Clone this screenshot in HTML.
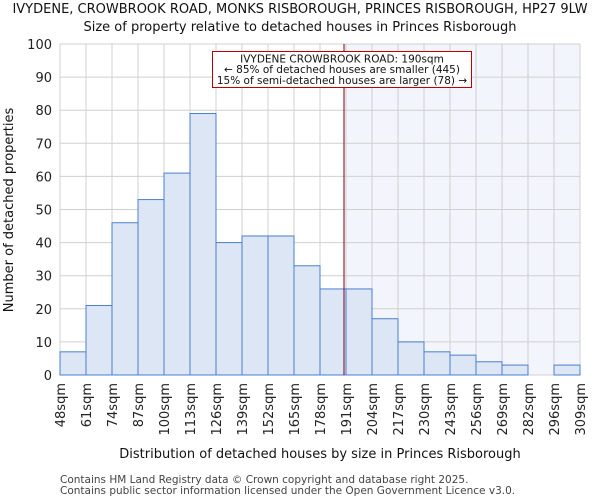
<!DOCTYPE html>
<html><head><meta charset="utf-8"><style>
body{margin:0;background:#fff;font-family:"DejaVu Sans","Liberation Sans",sans-serif;}
</style></head><body>
<svg id="chart" width="600" height="500" xmlns="http://www.w3.org/2000/svg" font-family="DejaVu Sans, Liberation Sans, sans-serif"></svg>
<script>
const categories=["48sqm","61sqm","74sqm","87sqm","100sqm","113sqm","126sqm","139sqm","152sqm","165sqm","178sqm","191sqm","204sqm","217sqm","230sqm","243sqm","256sqm","269sqm","282sqm","296sqm","309sqm"];
const counts=[7,21,46,53,61,79,40,42,42,33,26,26,17,10,7,6,4,3,0,3];
const yTicks=[0,10,20,30,40,50,60,70,80,90,100];
const markerBin=10+12/13;
const svg=document.getElementById('chart');
const NS='http://www.w3.org/2000/svg';
const L=60,R=580,T=44,B=375,bw=(R-L)/counts.length;
const x=i=>L+i*bw, y=v=>B-(v/100)*(B-T);
function el(t,a,p){const e=document.createElementNS(NS,t);for(const k in a)e.setAttribute(k,a[k]);(p||svg).appendChild(e);return e;}
function txt(s,a){const e=el('text',a);e.textContent=s;return e;}
const frame=el('rect',{x:L,y:T,width:R-L,height:B-T,fill:'#fff'});


const sh=el('rect',{x:x(markerBin),y:T,width:R-x(markerBin),height:B-T,fill:'#f3f5fc'});


for(let i=0;i<=counts.length;i++){const g=el('line',{x1:x(i),x2:x(i),y1:T,y2:B,stroke:'#d0d0d0','stroke-width':1});

}
yTicks.forEach(v=>{const g=el('line',{x1:L,x2:R,y1:y(v),y2:y(v),stroke:'#d0d0d0','stroke-width':1});


const t=txt(v,{x:L-8,y:y(v)+5,'text-anchor':'end','font-size':13,fill:'#222'});

});
counts.forEach((c,i)=>{if(c<=0)return;const b=el('rect',{x:x(i),y:y(c),width:bw,height:B-y(c),fill:'#dce6f5',stroke:'#4a7fd0','stroke-width':1});

});
categories.forEach((c,i)=>{const t=txt(c,{transform:`translate(${x(i)+5},${B+8}) rotate(-90)`,'text-anchor':'end','font-size':13,fill:'#222'});

});
const ml=el('line',{x1:x(markerBin),x2:x(markerBin),y1:T,y2:B,stroke:'#800010','stroke-width':1});


const ab=el('rect',{x:212.5,y:51.5,width:259,height:36,fill:'#fff',stroke:'#c00000','stroke-width':1});


["IVYDENE CROWBROOK ROAD: 190sqm","← 85% of detached houses are smaller (445)","15% of semi-detached houses are larger (78) →"].forEach((s,i)=>{const t=txt(s,{x:342,y:62.5+i*10.7,'text-anchor':'middle','font-size':10.5,fill:'#111'});

});
const t1=txt("IVYDENE, CROWBROOK ROAD, MONKS RISBOROUGH, PRINCES RISBOROUGH, HP27 9LW",{x:300,y:13,'text-anchor':'middle','font-size':13,fill:'#111'});


const t2=txt("Size of property relative to detached houses in Princes Risborough",{x:300,y:31,'text-anchor':'middle','font-size':13,fill:'#111'});


const xt=txt("Distribution of detached houses by size in Princes Risborough",{x:320,y:458,'text-anchor':'middle','font-size':13,fill:'#111'});


const yt=txt("Number of detached properties",{transform:'translate(13,210) rotate(-90)','text-anchor':'middle','font-size':13,fill:'#111'});


const f1=txt("Contains HM Land Registry data © Crown copyright and database right 2025.",{x:60,y:483,'font-size':10.5,fill:'#444'});


const f2=txt("Contains public sector information licensed under the Open Government Licence v3.0.",{x:60,y:494,'font-size':10.5,fill:'#444'});


</script>
</body></html>
